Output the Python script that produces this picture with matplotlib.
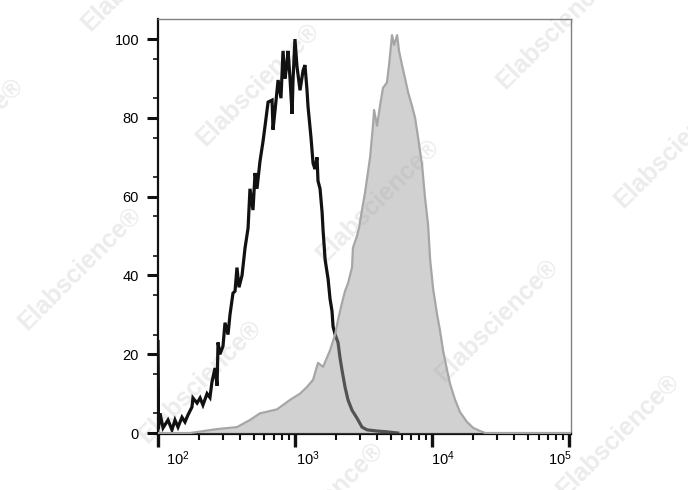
import numpy as np
import matplotlib
matplotlib.use("Agg")
import matplotlib.pyplot as plt
from matplotlib.ticker import FixedLocator, NullFormatter

plt.rcParams['font.family'] = ['Liberation Sans', 'DejaVu Sans']
plt.rcParams['mathtext.fontset'] = 'custom'
plt.rcParams['mathtext.rm'] = 'Liberation Sans'
plt.rcParams['mathtext.it'] = 'Liberation Sans:italic'

# control (unstained) histogram, log10 of intensity vs % of max
ctrl_log = [2.000, 2.000, 2.005, 2.017, 2.039, 2.075, 2.104, 2.126, 2.148, 2.177,
            2.199, 2.221, 2.250, 2.257, 2.287, 2.309, 2.330, 2.360, 2.381, 2.396,
            2.418, 2.433, 2.440, 2.454, 2.476, 2.491, 2.513, 2.527, 2.549, 2.564,
            2.578, 2.593, 2.615, 2.637, 2.659, 2.673, 2.695, 2.710, 2.724, 2.746,
            2.768, 2.783, 2.805, 2.834, 2.841, 2.856, 2.878, 2.899, 2.914, 2.929,
            2.943, 2.951, 2.965, 2.980, 2.987, 3.001, 3.016, 3.038, 3.060, 3.074,
            3.089, 3.096, 3.118, 3.133, 3.147, 3.162, 3.169, 3.184, 3.199, 3.206,
            3.221, 3.243, 3.257, 3.271, 3.279, 3.294, 3.315, 3.330, 3.344, 3.366,
            3.388, 3.417, 3.453, 3.490, 3.527, 3.600, 3.672, 3.750]
ctrl_pct = [0.0, 23.6, 1.0, 5.0, 1.3, 3.3, 0.8, 3.3, 1.5, 4.0,
            2.8, 4.6, 6.6, 8.9, 7.6, 8.9, 7.1, 10.0, 9.0, 13.0,
            16.5, 12.0, 23.0, 20.0, 22.0, 28.0, 25.0, 30.0, 35.5, 36.0,
            42.0, 37.0, 40.0, 47.0, 52.0, 62.0, 56.6, 66.0, 62.0, 69.0,
            74.0, 78.0, 84.0, 84.5, 77.0, 82.0, 89.6, 85.0, 97.0, 90.0,
            94.0, 97.0, 90.0, 81.0, 89.6, 100.0, 93.0, 87.0, 92.0, 93.4,
            87.0, 83.0, 75.0, 68.5, 67.0, 70.0, 64.0, 62.0, 56.0, 51.5,
            44.0, 39.0, 34.0, 31.0, 27.0, 25.0, 23.0, 19.0, 16.0, 11.7,
            8.4, 5.8, 3.8, 1.5, 0.8, 0.5, 0.3, 0.0]

# stained sample histogram
stain_log = [2.000, 2.236, 2.433, 2.578, 2.673, 2.746, 2.870, 2.965, 3.038, 3.089,
             3.133, 3.169, 3.206, 3.257, 3.294, 3.315, 3.344, 3.366, 3.388, 3.417,
             3.424, 3.453, 3.468, 3.490, 3.512, 3.549, 3.570, 3.578, 3.600, 3.621,
             3.643, 3.672, 3.687, 3.709, 3.724, 3.746, 3.760, 3.782, 3.804, 3.826,
             3.855, 3.877, 3.899, 3.928, 3.950, 3.972, 3.987, 4.009, 4.038, 4.059,
             4.081, 4.110, 4.132, 4.168, 4.205, 4.256, 4.301, 4.352, 4.389, 5.012]
stain_pct = [0.0, 0.0, 1.0, 1.5, 3.3, 5.0, 6.0, 8.4, 10.0, 11.7,
             13.5, 17.8, 16.8, 21.0, 25.0, 28.7, 33.0, 36.0, 38.0, 42.0,
             47.0, 50.0, 52.0, 56.6, 61.0, 70.0, 78.0, 82.0, 78.0, 83.0,
             87.6, 89.0, 93.4, 101.0, 98.5, 101.0, 97.0, 93.4, 90.0, 86.5,
             83.0, 80.0, 75.0, 68.0, 59.6, 52.8, 44.0, 36.5, 30.0, 26.0,
             21.0, 16.0, 12.5, 8.5, 5.3, 2.8, 1.3, 0.5, 0.0, 0.0]

y_ticks = [0, 20, 40, 60, 80, 100]
x_decades = [2, 3, 4, 5]
x_label_shift = [20, 13, 11, -9]  # pixel offsets of the decade labels

# watermark centres in pixels (x, y from top)
wm_pos = [(143, -31), (258, 84), (558, 27), (-38, 139), (378, 200), (676, 146),
          (80, 268), (497, 320), (200, 381), (618, 435), (322, 503)]

W, H = 688, 490
fig = plt.figure(figsize=(W / 100, H / 100), dpi=100)
ax = fig.add_axes([157.7 / W, 1 - 434 / H, (570.7 - 157.7) / W, (434 - 19) / H])

ctrl_x = 10 ** np.array(ctrl_log)
stain_x = 10 ** np.array(stain_log)

ax.plot(ctrl_x, ctrl_pct, color='#111111', lw=2.3, zorder=2, solid_joinstyle='miter')
ax.fill_between(stain_x, 0, stain_pct, color='#9f9f9f', alpha=0.47, lw=0, zorder=3)
ax.plot(stain_x, stain_pct, color='#a6a6a6', lw=1.6, zorder=4)

for (px, py) in wm_pos:
    ax.text(px / W, 1 - py / H, 'Elabscience\u00ae', transform=fig.transFigure,
            rotation=45, ha='center', va='center', rotation_mode='anchor',
            fontsize=18, fontweight='bold', color='#ececec', zorder=1, clip_on=False)

ax.set_xscale('log')
ax.set_xlim(100, 10 ** 5.012)
ax.set_ylim(-0.25, 105.1)

ax.set_yticks(y_ticks)
ax.yaxis.set_minor_locator(FixedLocator([v for v in range(5, 105, 10)]))
ax.tick_params(axis='y', which='major', direction='out', length=7.9, width=2.2,
               labelsize=10.5, pad=5.5, color='#111111')
ax.tick_params(axis='y', which='minor', direction='out', length=3.6, width=1.2,
               color='#111111')

ax.xaxis.set_major_locator(FixedLocator([10 ** d for d in x_decades]))
minors = [m * 10 ** d for d in x_decades[:-1] for m in range(2, 10)]
ax.xaxis.set_minor_locator(FixedLocator(minors))
ax.xaxis.set_major_formatter(NullFormatter())
ax.xaxis.set_minor_formatter(NullFormatter())
ax.tick_params(axis='x', which='major', direction='out', length=9.4, width=2.4,
               color='#111111')
ax.tick_params(axis='x', which='minor', direction='out', length=4.6, width=1.5,
               color='#111111')

for d, dx in zip(x_decades, x_label_shift):
    ax.annotate('$10^{%d}$' % d, xy=(10 ** d, 0), xycoords=('data', 'axes fraction'),
                xytext=(dx, -15), textcoords='offset pixels',
                ha='center', va='top', fontsize=10.5)

for side in ['left', 'bottom']:
    ax.spines[side].set_linewidth(1.6)
    ax.spines[side].set_color('#111111')
for side in ['top', 'right']:
    ax.spines[side].set_linewidth(1.0)
    ax.spines[side].set_color('#808080')

fig.savefig('out.png', dpi=100)
